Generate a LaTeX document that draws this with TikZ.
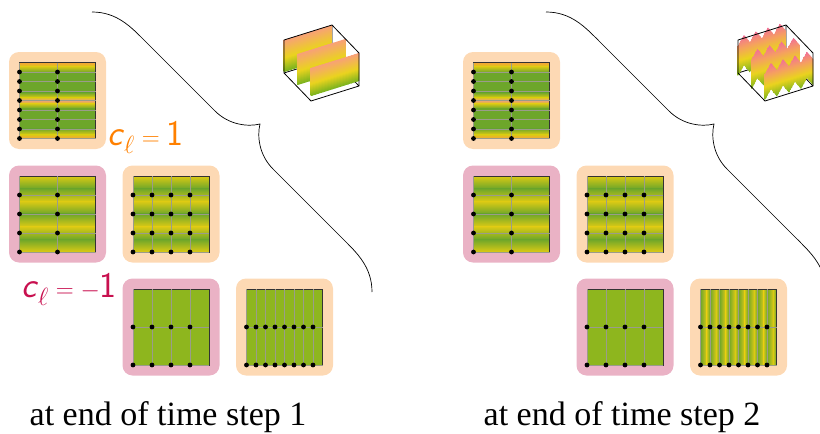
\documentclass[tikz,border=0pt]{standalone}
\usepackage{fontspec}
\newfontfamily\capfont{Liberation Serif}

\definecolor{peach}{HTML}{FDD9B4}
\definecolor{rosy}{HTML}{EAB2C5}
\definecolor{lblorange}{HTML}{FF8000}
\definecolor{lblred}{HTML}{C8104F}
\definecolor{fgreen}{HTML}{6DA62A}
\definecolor{fyellow}{HTML}{DCCA14}
\definecolor{forange}{HTML}{F6A23A}
\definecolor{fsalmon}{HTML}{EE9E82}
\definecolor{flat}{HTML}{8EB61E}
\definecolor{gridgray}{HTML}{9A9C8A}
\definecolor{rgreen}{HTML}{78B21E}
\definecolor{ryellow}{HTML}{EAD31E}
\definecolor{rsalmon}{HTML}{F8A078}
\definecolor{rorange}{HTML}{F5A060}
\definecolor{rpink}{HTML}{F26E98}

% height-coloured surface sheets (25bp..75bp spans the filled region)
\pgfdeclareverticalshading{ridgeone}{100bp}{color(0bp)=(rgreen); color(25bp)=(rgreen); color(47bp)=(ryellow); color(75bp)=(rsalmon); color(100bp)=(rsalmon)}
\pgfdeclareverticalshading{ridgetwo}{100bp}{color(0bp)=(rgreen); color(25bp)=(rgreen); color(44bp)=(ryellow); color(60bp)=(rorange); color(75bp)=(rpink); color(100bp)=(rpink)}

% cell grid with nodal dots inside a tile: node, columns, rows, fill code
\newcommand\tilegrid[4]{%
  \begin{scope}[shift={(#1.center)}]
    #4
    \draw[tileedge] (-38,-38) rectangle (38,38);
    \pgfmathtruncatemacro\lastc{#2-1}
    \pgfmathtruncatemacro\lastr{#3-1}
    \foreach \i in {0,...,\lastc}
      \draw[gridline] ({-38+76*\i/#2},-38) -- ({-38+76*\i/#2},38);
    \foreach \j in {0,...,\lastr}
      \draw[gridline] (-38,{38-76*\j/#3}) -- (38,{38-76*\j/#3});
    \foreach \i in {0,...,\lastc}
      \foreach \j in {0,...,\lastr}
        \fill ({-38+76*\i/#2},{38-76*\j/#3}) circle[radius=2.4pt];
  \end{scope}}

% sharp horizontal peaks at top, middle and bottom
\newcommand\fillpeaks{%
  \shade[top color=forange,bottom color=fyellow] (-38,-38) rectangle (38,-34);
  \shade[top color=fyellow,bottom color=fgreen] (-38,-34.2) rectangle (38,-28);
  \fill[fgreen] (-38,-28.2) rectangle (38,-7.8);
  \shade[top color=fgreen,bottom color=fyellow] (-38,-8) rectangle (38,-2.9);
  \shade[top color=fyellow,bottom color=fsalmon] (-38,-3.1) rectangle (38,0.1);
  \shade[top color=fsalmon,bottom color=fyellow] (-38,-0.1) rectangle (38,3.1);
  \shade[top color=fyellow,bottom color=fgreen] (-38,2.9) rectangle (38,8);
  \fill[fgreen] (-38,7.8) rectangle (38,28.2);
  \shade[top color=fgreen,bottom color=fyellow] (-38,28) rectangle (38,34.2);
  \shade[top color=fyellow,bottom color=forange] (-38,34) rectangle (38,38);}

% smooth horizontal waves, three periods
\newcommand\fillwaves{%
  \foreach \k in {0,1,2}{%
    \shade[top color=fyellow,bottom color=fgreen] (-38,{-38+25.333*\k}) rectangle (38,{-38+25.333*\k+12.8});
    \shade[top color=fgreen,bottom color=fyellow] (-38,{-38+25.333*\k+12.6}) rectangle (38,{-38+25.333*(\k+1)});
  }}

\newcommand\fillflat{\fill[flat] (-38,-38) rectangle (38,38);}

% vertical stripes, one per column
\newcommand\fillstripes{%
  \foreach \k in {0,...,7}{%
    \shade[left color=fgreen,right color=fyellow] ({-38+9.5*\k},-38) rectangle ({-38+9.5*\k+6.2},38);
    \shade[left color=fyellow,right color=fgreen] ({-38+9.5*\k+6},-38) rectangle ({-38+9.5*(\k+1)},38);
  }}

% one surface sheet in thin slices: x0, y0, zigzag depth, band height, shading
\newcommand\sheet[5]{%
  \foreach \s in {0,...,31}{%
    \pgfmathsetmacro\ua{\s/32}
    \pgfmathsetmacro\ub{(\s+1)/32}
    \pgfmathsetmacro\xa{#1+48*\ua}
    \pgfmathsetmacro\xb{#1+48*\ub}
    \pgfmathsetmacro\ya{#2-15*\ua+(#3)*2*abs(4*\ua-floor(4*\ua)-0.5)}
    \pgfmathsetmacro\yb{#2-15*\ub+(#3)*2*abs(4*\ub-floor(4*\ub+0.0001)-0.5)}
    \pgfmathsetmacro\yt{#2-15*(\ua+\ub)/2}
    \begin{scope}
      \clip (\xa-0.35,\ya) -- (\xb+0.35,\yb) -- (\xb+0.35,{\yb+#4}) -- (\xa-0.35,{\ya+#4}) -- cycle;
      \shade[shading=#5] (\xa-1,\yt) rectangle (\xb+1,{\yt+#3+#4});
    \end{scope}
  }}

\newcommand\boxback{%
  \draw[boxline] (332,25) -- (332,58) -- (284,73);
  \draw[boxline] (332,58) -- (359,86);}
\newcommand\boxfront{%
  \draw[boxline,line join=round] (284,73) -- (284,40) -- (332,25) -- (359,53) -- (359,86) -- (311,101) -- cycle;}

% curly brace towards the surface plot
\newcommand\bigbrace{%
  \draw[bracestroke] (92,12) .. controls (117,12) and (131,27) .. (145,41)
    -- (215,111) .. controls (229,125) and (248,127) .. (260,124)
    .. controls (257,136) and (259,155) .. (273,169)
    -- (343,239) .. controls (357,253) and (372,267) .. (372,292);}

\begin{document}
\begin{tikzpicture}[x=1pt,y=-1pt,
  tilebg/.style={minimum size=97pt,rounded corners=10pt,inner sep=0pt,outer sep=0pt},
  peachbg/.style={tilebg,fill=peach},
  rosybg/.style={tilebg,fill=rosy},
  tileedge/.style={draw=black!80,line width=0.7pt},
  gridline/.style={draw=gridgray,line width=1pt},
  boxline/.style={draw=black,line width=0.8pt},
  bracestroke/.style={draw=black,line width=0.7pt},
  caption/.style={anchor=base,inner sep=0pt,font=\capfont\fontsize{34}{40}\selectfont},
  coeff/.style={anchor=base west,inner sep=0pt,font=\fontsize{36}{40}\selectfont},
  coeffvar/.style={coeff,xslant=0.22,transform shape}]
\useasboundingbox (0,0) rectangle (820,434);

% ---------- time step 1 ----------
\node[peachbg] (pa) at (57.5,100.5) {};
\node[rosybg]  (pb) at (57.5,214) {};
\node[peachbg] (pc) at (171,214) {};
\node[rosybg]  (pd) at (171,327) {};
\node[peachbg] (pe) at (284.5,327) {};
\tilegrid{pa}{2}{8}{\fillpeaks}
\tilegrid{pb}{2}{4}{\fillwaves}
\tilegrid{pc}{4}{4}{\fillwaves}
\tilegrid{pd}{4}{2}{\fillflat}
\tilegrid{pe}{8}{2}{\fillflat}

% coefficient labels: oblique sans c, then the rest of the formula
\begin{scope}[shift={(107,145)}]
  \node[coeffvar,text=lblorange] (cposc) at (0,0) {\textsf{c}};
\end{scope}
\node[coeff,text=lblorange] (cposr) at ([xshift=1.5pt]cposc.base east) {${}_{\ell} = \textsf{1}$};
\begin{scope}[shift={(21,297)}]
  \node[coeffvar,text=lblred] (cnegc) at (0,0) {\textsf{c}};
\end{scope}
\node[coeff,text=lblred] (cnegr) at ([xshift=1.5pt]cnegc.base east) {${}_{\ell} = -\textsf{1}$};

\bigbrace
\boxback
\sheet{284}{40}{0}{32}{ridgeone}
\sheet{297.5}{54}{0}{31}{ridgeone}
\sheet{311}{68}{0}{28}{ridgeone}
\boxfront

\node[caption] (capa) at (168,425) {at end of time step 1};

% ---------- time step 2 ----------
\begin{scope}[xshift=454pt]
\node[peachbg] (qa) at (57.5,100.5) {};
\node[rosybg]  (qb) at (57.5,214) {};
\node[peachbg] (qc) at (171,214) {};
\node[rosybg]  (qd) at (171,327) {};
\node[peachbg] (qe) at (284.5,327) {};
\tilegrid{qa}{2}{8}{\fillpeaks}
\tilegrid{qb}{2}{4}{\fillwaves}
\tilegrid{qc}{4}{4}{\fillwaves}
\tilegrid{qd}{4}{2}{\fillflat}
\tilegrid{qe}{8}{2}{\fillstripes}

\bigbrace
\boxback
\sheet{284}{37}{9}{30}{ridgetwo}
\sheet{297.5}{51}{9}{29}{ridgetwo}
\sheet{311}{65}{9}{26}{ridgetwo}
\boxfront

\node[caption] (capb) at (168,425) {at end of time step 2};
\end{scope}
\end{tikzpicture}
\end{document}
